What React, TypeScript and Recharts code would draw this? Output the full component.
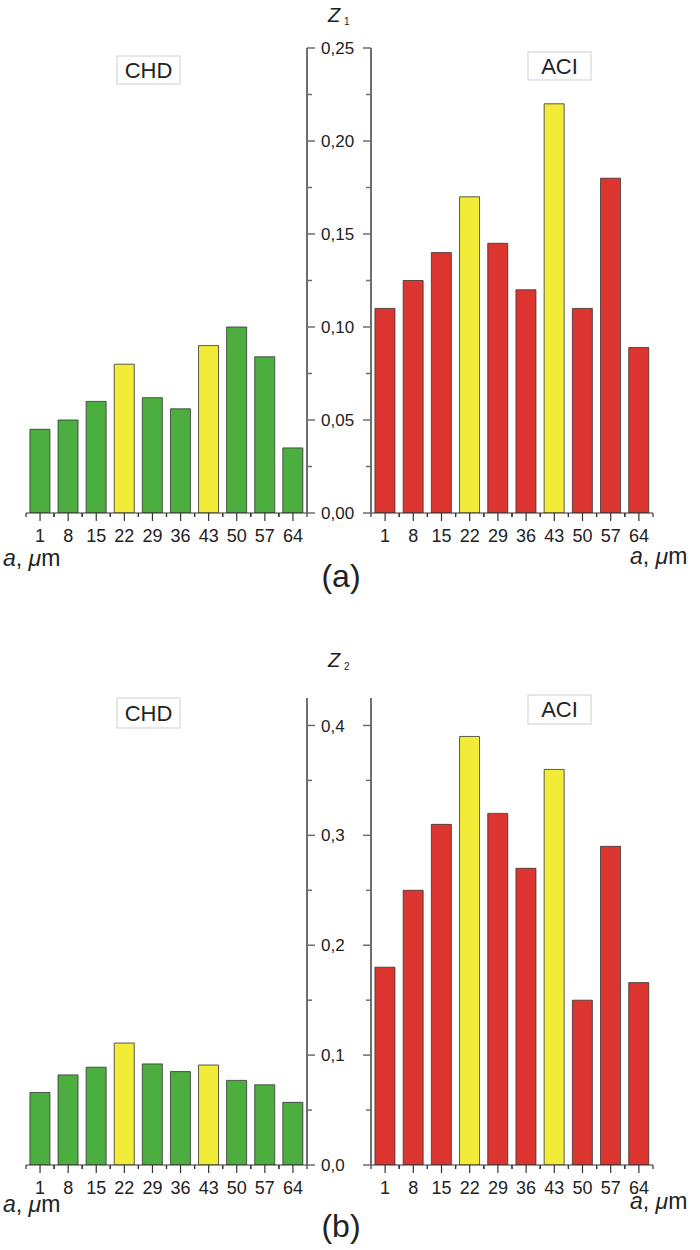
import React from 'react';
import { Bar, BarChart, Cell, XAxis, YAxis } from 'recharts';

// particle size classes, µm
const sizes = ['1', '8', '15', '22', '29', '36', '43', '50', '57', '64'];
const highlighted = ['22', '43'];

const chdZ1 = [0.045, 0.05, 0.06, 0.08, 0.062, 0.056, 0.09, 0.1, 0.084, 0.035];
const aciZ1 = [0.11, 0.125, 0.14, 0.17, 0.145, 0.12, 0.22, 0.11, 0.18, 0.089];
const chdZ2 = [0.066, 0.082, 0.089, 0.111, 0.092, 0.085, 0.091, 0.077, 0.073, 0.057];
const aciZ2 = [0.18, 0.25, 0.31, 0.39, 0.32, 0.27, 0.36, 0.15, 0.29, 0.166];

const z1Ticks = [0, 0.025, 0.05, 0.075, 0.1, 0.125, 0.15, 0.175, 0.2, 0.225, 0.25];
const z1Labels = [0, 0.05, 0.1, 0.15, 0.2, 0.25];
const z2Ticks = [0, 0.05, 0.1, 0.15, 0.2, 0.25, 0.3, 0.35, 0.4];
const z2Labels = [0, 0.1, 0.2, 0.3, 0.4];

const GREEN = '#4cae3f';
const RED = '#dc342e';
const YELLOW = '#f2ec38';
const AXIS = '#6e6e6e';
const INK = '#222';
const FONT = '"Liberation Sans", Arial, sans-serif';

const toRows = (vals: number[]) => sizes.map((s, i) => ({ size: s, value: vals[i] }));

const isMajor = (v: number, labels: number[]) => labels.some(l => Math.abs(l - v) < 1e-9);

function YTick(props: any) {
    const { x, y, payload, dir, labels, digits, showLabel } = props;
    const major = isMajor(payload.value, labels);
    const len = major ? 8 : 5;
    return (
        <g>
            <line x1={x} y1={y} x2={x + dir * len} y2={y} stroke={AXIS} strokeWidth={1.5} />
            {showLabel && major && (
                <text x={x + 14} y={y} dy="0.36em" fontSize={17} fill={INK} fontFamily={FONT}>
                    {payload.value.toFixed(digits).replace('.', ',')}
                </text>
            )}
        </g>
    );
}

function XTick(props: any) {
    const { x, y, payload } = props;
    const half = payload.offset ?? 14;
    return (
        <g>
            <line x1={x} y1={y} x2={x} y2={y + 8} stroke="#333" strokeWidth={1.2} />
            <line x1={x - half} y1={y} x2={x - half} y2={y + 4} stroke="#333" strokeWidth={1.2} />
            <line x1={x + half} y1={y} x2={x + half} y2={y + 4} stroke="#333" strokeWidth={1.2} />
            <text x={x} y={y + 29} textAnchor="middle" fontSize={18} fill={INK} fontFamily={FONT}>
                {payload.value}
            </text>
        </g>
    );
}

function Panel({ top, plotTop, chd, aci, domain, ticks, labels, digits }: any) {
    const H = 570;
    return (
        <>
            <div style={{ position: 'absolute', left: 0, top }}>
                <BarChart
                    width={370}
                    height={H}
                    data={toRows(chd)}
                    margin={{ top: plotTop, right: 0, bottom: 30, left: 26 }}
                    barCategoryGap="14%"
                >
                    <XAxis dataKey="size" height={27} tickSize={0} tickMargin={0} interval={0}
                        axisLine={{ stroke: '#333', strokeWidth: 1.2 }} tick={(p: any) => <XTick {...p} />} />
                    <YAxis orientation="right" width={63} domain={domain} ticks={ticks} interval={0}
                        tickSize={0} tickMargin={0} allowDataOverflow
                        axisLine={{ stroke: AXIS, strokeWidth: 2 }}
                        tick={(p: any) => <YTick {...p} dir={1} labels={labels} digits={digits} showLabel />} />
                    <Bar dataKey="value" stroke="#333" strokeWidth={0.8} isAnimationActive={false}>
                        {sizes.map((s, i) => (
                            <Cell key={`chd-${i}`} fill={highlighted.includes(s) ? YELLOW : GREEN} />
                        ))}
                    </Bar>
                </BarChart>
            </div>
            <div style={{ position: 'absolute', left: 307, top }}>
                <BarChart
                    width={393}
                    height={H}
                    data={toRows(aci)}
                    margin={{ top: plotTop, right: 47, bottom: 30, left: 1 }}
                    barCategoryGap="14%"
                >
                    <XAxis dataKey="size" height={27} tickSize={0} tickMargin={0} interval={0}
                        axisLine={{ stroke: '#333', strokeWidth: 1.2 }} tick={(p: any) => <XTick {...p} />} />
                    <YAxis orientation="left" width={63} domain={domain} ticks={ticks} interval={0}
                        tickSize={0} tickMargin={0} allowDataOverflow
                        axisLine={{ stroke: AXIS, strokeWidth: 2 }}
                        tick={(p: any) => <YTick {...p} dir={-1} labels={labels} digits={digits} showLabel={false} />} />
                    <Bar dataKey="value" stroke="#333" strokeWidth={0.8} isAnimationActive={false}>
                        {sizes.map((s, i) => (
                            <Cell key={`aci-${i}`} fill={highlighted.includes(s) ? YELLOW : RED} />
                        ))}
                    </Bar>
                </BarChart>
            </div>
        </>
    );
}

function SizeLabel({ x, y }: { x: number; y: number }) {
    return (
        <text x={x} y={y} fontSize={23} fill={INK} fontFamily={FONT}>
            <tspan fontStyle="italic">a</tspan>, <tspan fontStyle="italic">μ</tspan>m
        </text>
    );
}

function Tag({ x, y, w, h, text }: { x: number; y: number; w: number; h: number; text: string }) {
    return (
        <g>
            <rect x={x} y={y} width={w} height={h} fill="#fff" stroke="#cfcfcf" strokeWidth={1} />
            <text x={x + w / 2} y={y + h / 2} dy="0.36em" textAnchor="middle" fontSize={22} fill={INK} fontFamily={FONT}>
                {text}
            </text>
        </g>
    );
}

export default function App() {
    return (
        <div style={{ position: 'absolute', left: 0, top: 0, width: 700, height: 1250, background: '#fff' }}>
            <Panel top={0} plotTop={48} chd={chdZ1} aci={aciZ1} domain={[0, 0.25]}
                ticks={z1Ticks} labels={z1Labels} digits={2} />
            <Panel top={652} plotTop={46} chd={chdZ2} aci={aciZ2} domain={[0, 0.425]}
                ticks={z2Ticks} labels={z2Labels} digits={1} />
            <svg width={700} height={1250} style={{ position: 'absolute', left: 0, top: 0, pointerEvents: 'none' }}>
                <text x={328} y={22} fontSize={20} fontStyle="italic" fill={INK} fontFamily={FONT}>Z</text>
                <text x={344} y={25} fontSize={10} fill={INK} fontFamily={FONT}>1</text>
                <text x={328} y={667} fontSize={20} fontStyle="italic" fill={INK} fontFamily={FONT}>Z</text>
                <text x={344} y={670} fontSize={10} fill={INK} fontFamily={FONT}>2</text>

                <Tag x={117} y={56} w={63} h={28} text="CHD" />
                <Tag x={528} y={52} w={63} h={28} text="ACI" />
                <Tag x={117} y={698} w={63} h={30} text="CHD" />
                <Tag x={528} y={695} w={63} h={29} text="ACI" />

                <SizeLabel x={3} y={566} />
                <SizeLabel x={630} y={564} />
                <SizeLabel x={3} y={1212} />
                <SizeLabel x={630} y={1209} />

                <text x={341} y={587} textAnchor="middle" fontSize={32} fill={INK} fontFamily={FONT}>(a)</text>
                <text x={341} y={1237} textAnchor="middle" fontSize={32} fill={INK} fontFamily={FONT}>(b)</text>
            </svg>
        </div>
    );
}
